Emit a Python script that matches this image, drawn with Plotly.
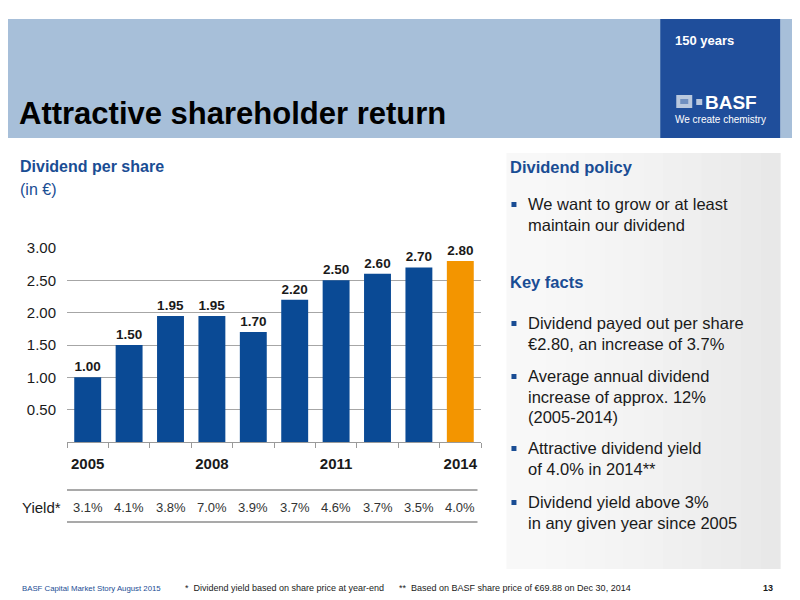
import plotly.graph_objects as go

years = ["2005", "2006", "2007", "2008", "2009", "2010", "2011", "2012", "2013", "2014"]
dividend = [1.00, 1.50, 1.95, 1.95, 1.70, 2.20, 2.50, 2.60, 2.70, 2.80]
yield_pct = ["3.1%", "4.1%", "3.8%", "7.0%", "3.9%", "3.7%", "4.6%", "3.7%", "3.5%", "4.0%"]
shown_years = ["2005", "2008", "2011", "2014"]
y_ticks = [0.5, 1.0, 1.5, 2.0, 2.5, 3.0]

BLUE = "#0a4a95"
ORANGE = "#f39500"
HEAD_BLUE = "#1a4d94"
FONT = "Liberation Sans, Arial, sans-serif"

# page is rendered with an 8px body margin: work in page pixels, convert to figure
OFF = 8
FW, FH = 792, 592
L = 67 - OFF
T = 248 - OFF
R = FW - (481.5 - OFF)
B = FH - (442 - OFF)
W = FW - L - R
H = FH - T - B


def px(x):
    return (x - OFF - L) / W


def py(y):
    return (FH - B - (y - OFF)) / H


colors = [BLUE] * (len(years) - 1) + [ORANGE]

fig = go.Figure()
fig.add_trace(go.Bar(
    x=years, y=dividend,
    marker=dict(color=colors, line=dict(width=0)),
    text=[f"<b>{v:.2f}</b>" for v in dividend],
    textposition="outside",
    textfont=dict(family=FONT, size=13.5, color="#1a1a1a"),
    cliponaxis=False,
    hoverinfo="skip",
))

shapes = []
annotations = []

# header band
shapes.append(dict(type="rect", xref="paper", yref="paper", x0=px(0), x1=px(800), y0=py(138), y1=py(19),
                   fillcolor="#a7bfd9", line=dict(width=0), layer="below"))
# logo box
shapes.append(dict(type="rect", xref="paper", yref="paper", x0=px(661), x1=px(781), y0=py(138), y1=py(19),
                   fillcolor="#1f4e9b", line=dict(width=0), layer="below"))
# logo squares
shapes.append(dict(type="rect", xref="paper", yref="paper", x0=px(677), x1=px(693), y0=py(108), y1=py(95),
                   fillcolor="#b9c8de", line=dict(width=0), layer="above"))
shapes.append(dict(type="rect", xref="paper", yref="paper", x0=px(681), x1=px(689), y0=py(104), y1=py(99),
                   fillcolor="#6f8fc0", line=dict(width=0), layer="above"))
shapes.append(dict(type="rect", xref="paper", yref="paper", x0=px(697), x1=px(703), y0=py(105), y1=py(99),
                   fillcolor="#b9c8de", line=dict(width=0), layer="above"))
# right grey panel (stepped gradient)
n_steps = 14
x_left, x_right = 507, 781
for i in range(n_steps):
    a = x_left + (x_right - x_left) * i / n_steps
    b = x_left + (x_right - x_left) * (i + 1) / n_steps + 0.5
    g = int(round(248 - (248 - 232) * (i / (n_steps - 1)) ** 1.5))
    shapes.append(dict(type="rect", xref="paper", yref="paper", x0=px(a), x1=px(b), y0=py(569), y1=py(153),
                       fillcolor=f"rgb({g},{g},{g})", line=dict(width=0), layer="below"))
# yield rows lines
for yy in (490, 522):
    shapes.append(dict(type="line", xref="paper", yref="paper", x0=px(67), x1=px(478), y0=py(yy), y1=py(yy),
                       line=dict(color="#8c8c8c", width=1.5)))


def txt(x, y, s, size, color="#1a1a1a", xanchor="left"):
    annotations.append(dict(x=px(x), y=py(y), xref="paper", yref="paper", text=s, showarrow=False,
                            xanchor=xanchor, yanchor="middle", font=dict(family=FONT, size=size, color=color)))


txt(17, 113, "<b>Attractive shareholder return</b>", 31, "#000000")
txt(674, 41, "<b>150 years</b>", 13, "#ffffff")
txt(704, 102, "<b>BASF</b>", 19, "#ffffff")
txt(674, 120, "We create chemistry", 10, "#ffffff")

txt(18, 166, "<b>Dividend per share</b>", 16, HEAD_BLUE)
txt(18, 189, "(in €)", 16, HEAD_BLUE)

# yield row
txt(20, 507, "Yield*", 15, "#1a1a1a")
for i, yv in enumerate(yield_pct):
    annotations.append(dict(x=i, y=py(507), xref="x", yref="paper", text=yv, showarrow=False,
                            xanchor="center", yanchor="middle", font=dict(family=FONT, size=13, color="#333333")))

# right panel text
txt(509, 167, "<b>Dividend policy</b>", 16.5, HEAD_BLUE)
txt(509, 282, "<b>Key facts</b>", 16.5, HEAD_BLUE)
bullets = [
    (204, ["We want to grow or at least", "maintain our dividend"]),
    (323, ["Dividend payed out per share", "€2.80, an increase of 3.7%"]),
    (376, ["Average annual dividend", "increase of approx. 12%", "(2005-2014)"]),
    (448, ["Attractive dividend yield", "of 4.0% in 2014**"]),
    (502, ["Dividend yield above 3%", "in any given year since 2005"]),
]
for y0, lines in bullets:
    shapes.append(dict(type="rect", xref="paper", yref="paper", x0=px(512), x1=px(517), y0=py(y0 + 3), y1=py(y0 - 2),
                       fillcolor=HEAD_BLUE, line=dict(width=0)))
    for i, line in enumerate(lines):
        txt(527, y0 + i * 20.7, line, 16.5, "#1a1a1a")

# footer
txt(20, 588, "BASF Capital Market Story August 2015", 7.8, HEAD_BLUE)
txt(183, 588, "*  Dividend yield based on share price at year-end", 9, "#1a1a1a")
txt(397, 588, "**  Based on BASF share price of €69.88 on Dec 30, 2014", 9, "#1a1a1a")
txt(776, 588, "<b>13</b>", 9, "#1a1a1a", xanchor="right")

fig.update_layout(
    width=FW, height=FH,
    margin=dict(l=L, r=R, t=T, b=B, pad=0),
    paper_bgcolor="#ffffff", plot_bgcolor="rgba(0,0,0,0)",
    showlegend=False,
    bargap=0.35,
    font=dict(family=FONT, color="#1a1a1a"),
    shapes=shapes,
    annotations=annotations,
    xaxis=dict(
        type="category",
        range=[-0.5, len(years) - 0.5],
        autorange=False,
        tickmode="array",
        tickvals=years,
        ticktext=[f"<b>{y}</b>" if y in shown_years else "" for y in years],
        tickangle=0,
        tickson="boundaries",
        ticks="outside", ticklen=5, tickcolor="#9a9a9a", tickwidth=1,
        ticklabelstandoff=8,
        showline=True, linecolor="#9a9a9a", linewidth=1,
        showgrid=False,
        tickfont=dict(family=FONT, size=15, color="#1a1a1a"),
        fixedrange=True,
    ),
    yaxis=dict(
        range=[0, 3.0],
        autorange=False,
        tickmode="array",
        tickvals=y_ticks,
        ticktext=[f"{v:.2f}" for v in y_ticks],
        showgrid=True, gridcolor="#a6a6a6", gridwidth=1,
        zeroline=False, showline=False,
        ticks="", ticklabelstandoff=10,
        tickfont=dict(family=FONT, size=15, color="#1a1a1a"),
        fixedrange=True,
    ),
)

fig.write_html("out.html")
